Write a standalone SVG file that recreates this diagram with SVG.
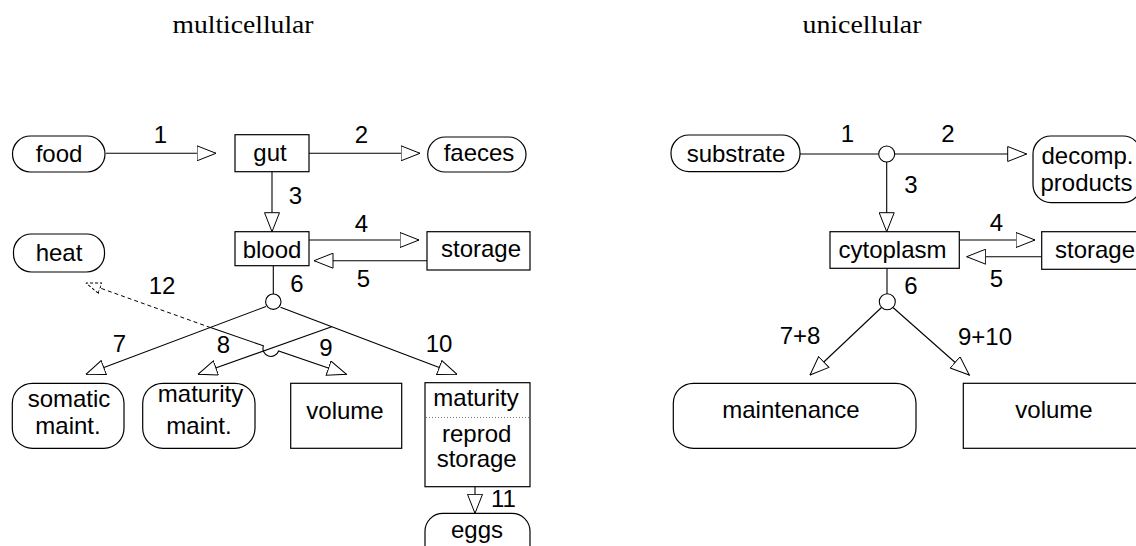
<svg xmlns="http://www.w3.org/2000/svg" width="1136" height="546" viewBox="0 0 1136 546">
  <style>
    .box { fill: #fff; stroke: #000; stroke-width: 1.2; }
    .lbl { font-family: "Liberation Sans", Arial, sans-serif; font-size: 24px; fill: #000; text-anchor: middle; }
    .title { font-family: "Liberation Serif", "Times New Roman", serif; font-size: 25px; fill: #000; text-anchor: middle; }
    .edge { fill: none; stroke: #000; stroke-width: 1.1; }
    .arr { marker-end: url(#open); }
    .dash { fill: none; stroke: #000; stroke-width: 1; stroke-dasharray: 4 3; marker-end: url(#openDash); }
    .dot { fill: #fff; stroke: #000; stroke-width: 1.1; }
  </style>
  <defs>
    <marker id="open" viewBox="0 0 20 16" refX="19.5" refY="8" markerWidth="20" markerHeight="16" markerUnits="userSpaceOnUse" orient="auto">
      <path d="M0.5,0.5 L19.5,8 L0.5,15.5 Z" fill="#fff" stroke="#000" stroke-width="1"/>
    </marker>
    <marker id="openDash" viewBox="0 0 16 12" refX="15.5" refY="6" markerWidth="16" markerHeight="12" markerUnits="userSpaceOnUse" orient="auto">
      <path d="M0.5,0.5 L15.5,6 L0.5,11.5 Z" fill="#fff" stroke="#000" stroke-width="1" stroke-dasharray="3 2"/>
    </marker>
  </defs>
  <rect width="1136" height="546" fill="#fff"/>

  <text class="title" x="243" y="33" textLength="141" lengthAdjust="spacingAndGlyphs">multicellular</text>
  <text class="title" x="862" y="33" textLength="119" lengthAdjust="spacingAndGlyphs">unicellular</text>

  <!-- connectors -->
  <g id="connectors">
    <!-- multicellular -->
    <path class="edge arr" d="M106,153.3 L216,153.3"/>
    <path class="edge arr" d="M309,153.3 L420,153.3"/>
    <path class="edge arr" d="M272,171.7 L272,231.7"/>
    <path class="edge arr" d="M309,240 L419,240"/>
    <path class="edge arr" d="M427,260.7 L314,260.7"/>
    <path class="edge" d="M273.3,265.7 L273.3,294"/>
    <path class="edge arr" d="M266,306.5 L86,374.3"/>
    <path class="edge arr" d="M280.5,307.3 L457,374.3"/>
    <path class="edge arr" d="M331.7,326.8 L198,374.3"/>
    <path class="edge arr" d="M210.5,327.6 L263.4,345.8 A8,8 0 0 0 278.6,351 L346.5,374.3"/>
    <path class="dash" d="M210.5,327.6 L86,283"/>
    <path class="edge arr" d="M475,486.7 L475,513.3"/>
    <circle class="dot" cx="273.3" cy="301.7" r="7.7"/>

    <!-- unicellular -->
    <path class="edge" d="M800,154 L878.7,154"/>
    <path class="edge arr" d="M894.7,154 L1026.7,154"/>
    <path class="edge arr" d="M886.7,162 L886.7,231.7"/>
    <path class="edge arr" d="M959.3,240 L1035,240"/>
    <path class="edge arr" d="M1041.7,256.7 L966.7,256.7"/>
    <path class="edge" d="M887,268.3 L887,294"/>
    <path class="edge arr" d="M881.5,307.5 L810,375"/>
    <path class="edge arr" d="M893,307.5 L969.3,375"/>
    <circle class="dot" cx="886.7" cy="154" r="8"/>
    <circle class="dot" cx="887.3" cy="301.7" r="8"/>
  </g>

  <!-- flow labels -->
  <g id="flow-labels" class="lbl">
    <text x="160.5" y="143">1</text>
    <text x="361.5" y="143">2</text>
    <text x="295.5" y="204">3</text>
    <text x="361.5" y="232">4</text>
    <text x="363.5" y="286.5">5</text>
    <text x="297" y="292">6</text>
    <text x="119.5" y="351.5">7</text>
    <text x="223.5" y="353">8</text>
    <text x="326" y="356">9</text>
    <text x="439" y="351.5">10</text>
    <text x="503.5" y="506.5">11</text>
    <text x="162" y="293.5">12</text>

    <text x="847.5" y="141.7">1</text>
    <text x="948" y="141.7">2</text>
    <text x="911" y="193">3</text>
    <text x="996.5" y="231">4</text>
    <text x="996.5" y="286.7">5</text>
    <text x="911" y="294">6</text>
    <text x="800" y="343.5">7+8</text>
    <text x="985" y="345">9+10</text>
  </g>

  <!-- multicellular nodes -->
  <g id="food">
    <rect class="box" x="12.5" y="136" width="92.5" height="36" rx="18"/>
    <text class="lbl" x="59" y="162.3">food</text>
  </g>
  <g id="gut">
    <rect class="box" x="235" y="134.7" width="74" height="37"/>
    <text class="lbl" x="270" y="160.5">gut</text>
  </g>
  <g id="faeces">
    <rect class="box" x="427.7" y="137" width="98.3" height="35" rx="17.5"/>
    <text class="lbl" x="479" y="160.5">faeces</text>
  </g>
  <g id="heat">
    <rect class="box" x="13.5" y="234" width="91" height="38" rx="18"/>
    <text class="lbl" x="59" y="260.5">heat</text>
  </g>
  <g id="blood">
    <rect class="box" x="235" y="231.7" width="74" height="34"/>
    <text class="lbl" x="272" y="258.3">blood</text>
  </g>
  <g id="storage-multi">
    <rect class="box" x="427" y="231.7" width="103" height="38.3"/>
    <text class="lbl" x="481" y="257">storage</text>
  </g>
  <g id="somatic-maint">
    <rect class="box" x="12.3" y="383.3" width="111.7" height="65" rx="20"/>
    <text class="lbl" x="69" y="406.5">somatic</text>
    <text class="lbl" x="68" y="434">maint.</text>
  </g>
  <g id="maturity-maint">
    <rect class="box" x="142.7" y="383.3" width="112.3" height="65" rx="20"/>
    <text class="lbl" x="200.5" y="401.5">maturity</text>
    <text class="lbl" x="199" y="434">maint.</text>
  </g>
  <g id="volume-multi">
    <rect class="box" x="290.7" y="383.3" width="111" height="65"/>
    <text class="lbl" x="345" y="419.3">volume</text>
  </g>
  <g id="maturity-reprod">
    <rect class="box" x="425" y="382.7" width="105" height="104"/>
    <line x1="426" y1="417.5" x2="529" y2="417.5" stroke="#777" stroke-width="1" stroke-dasharray="1 2"/>
    <text class="lbl" x="476" y="406">maturity</text>
    <text class="lbl" x="476.7" y="442">reprod</text>
    <text class="lbl" x="476.7" y="467">storage</text>
  </g>
  <g id="eggs">
    <rect class="box" x="425" y="513.3" width="105" height="60" rx="18"/>
    <text class="lbl" x="477" y="538">eggs</text>
  </g>

  <!-- unicellular nodes -->
  <g id="substrate">
    <rect class="box" x="671" y="135" width="129" height="36.7" rx="18"/>
    <text class="lbl" x="736" y="161.5">substrate</text>
  </g>
  <g id="decomp-products">
    <rect class="box" x="1033" y="136" width="108" height="66.7" rx="18"/>
    <text class="lbl" x="1087.5" y="164">decomp.</text>
    <text class="lbl" x="1086.5" y="191">products</text>
  </g>
  <g id="cytoplasm">
    <rect class="box" x="830" y="231.7" width="129.3" height="36.6"/>
    <text class="lbl" x="892.5" y="258">cytoplasm</text>
  </g>
  <g id="storage-uni">
    <rect class="box" x="1041.7" y="231.7" width="105" height="37.6"/>
    <text class="lbl" x="1095" y="258">storage</text>
  </g>
  <g id="maintenance">
    <rect class="box" x="673.3" y="383.3" width="242.7" height="65" rx="20"/>
    <text class="lbl" x="791" y="418.3">maintenance</text>
  </g>
  <g id="volume-uni">
    <rect class="box" x="963.3" y="383.3" width="185" height="65"/>
    <text class="lbl" x="1054" y="418.3">volume</text>
  </g>
</svg>
